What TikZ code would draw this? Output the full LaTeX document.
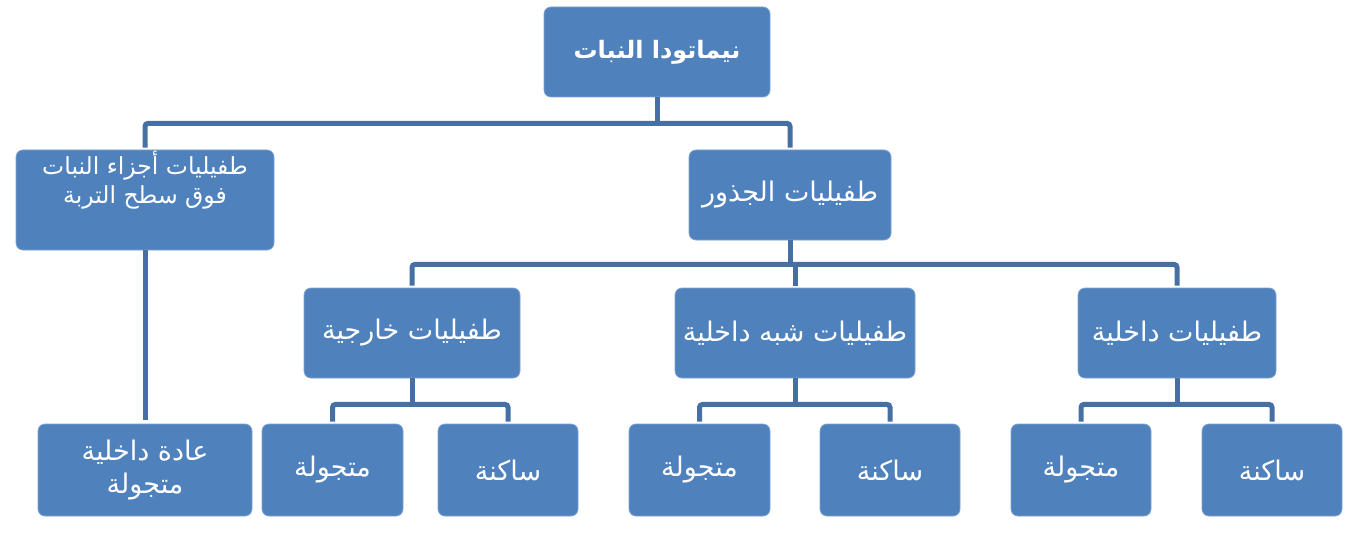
\documentclass[tikz,border=0pt]{standalone}
\usepackage{fontspec}
\newfontfamily\arabicfont[Script=Arabic]{DejaVu Sans}
\TeXXeTstate=1
\definecolor{boxblue}{HTML}{4F81BD}
\definecolor{boxedge}{HTML}{7FA3D0}
\definecolor{linkblue}{HTML}{4670A4}
\newcommand{\artxt}[1]{\beginR #1\endR}
\begin{document}
\begin{tikzpicture}[x=1pt,y=-1pt,
  box/.style={fill=boxblue, draw=boxedge, line width=0.8pt, rounded corners=7pt,
    text=white, font=\arabicfont\fontsize{27}{33}\selectfont, align=center, inner sep=0pt},
  lbl/.style={text=white, font=\arabicfont\fontsize{23.5}{29}\selectfont, align=center, inner sep=0pt},
  conn/.style={draw=linkblue, line width=5pt, rounded corners=3pt}]
\fill[white] (0,0) rectangle (1365,548);
\useasboundingbox (0,0) rectangle (1365,548);
% level 0
\node[box, minimum width=226pt, minimum height=90pt, font=\arabicfont\bfseries\fontsize{24}{29}\selectfont] (root) at (657,52) {\artxt{نيماتودا النبات}};
% level 1
\node[box, minimum width=258pt, minimum height=100pt] (left) at (145,200) {};
\node[lbl] (lefttxt) at (145,180) {\artxt{طفيليات أجزاء النبات}\\\artxt{فوق سطح التربة}};
\node[box, minimum width=202pt, minimum height=90pt] (roots) at (790,195) {\artxt{طفيليات الجذور}};
% level 2
\node[box, minimum width=216pt, minimum height=90pt] (ext) at (412,333) {\artxt{طفيليات خارجية}};
\node[box, minimum width=240pt, minimum height=90pt] (semi) at (795,333) {\artxt{طفيليات شبه داخلية}};
\node[box, minimum width=198pt, minimum height=90pt] (int) at (1177,333) {\artxt{طفيليات داخلية}};
% level 3
\node[box, minimum width=214pt, minimum height=92pt] (b1) at (145,470) {\artxt{عادة داخلية}\\\artxt{متجولة}};
\node[box, minimum width=141pt, minimum height=92pt] (b2) at (332.5,470) {\artxt{متجولة}};
\node[box, minimum width=140pt, minimum height=92pt] (b3) at (508,470) {\artxt{ساكنة}};
\node[box, minimum width=141pt, minimum height=92pt] (b4) at (699.5,470) {\artxt{متجولة}};
\node[box, minimum width=140pt, minimum height=92pt] (b5) at (890,470) {\artxt{ساكنة}};
\node[box, minimum width=140pt, minimum height=92pt] (b6) at (1081,470) {\artxt{متجولة}};
\node[box, minimum width=140pt, minimum height=92pt] (b7) at (1272,470) {\artxt{ساكنة}};
% connectors
\path (root.south) ++(0,26) coordinate (j0);
\draw[conn] (root.south) -- (j0);
\draw[conn] ([yshift=2pt]left.north) |- (j0) -| ([yshift=2pt]roots.north);
\draw[conn] (left.south) -- ([yshift=4pt]b1.north);
\path (roots.south) ++(0,24) coordinate (j1);
\draw[conn] (roots.south) -- (j1);
\draw[conn] ([yshift=2pt]ext.north) |- (j1) -| ([yshift=2pt]int.north);
\draw[conn] ([yshift=2pt]semi.north) -- (semi.north |- j1);
\path (ext.south) ++(0,26) coordinate (j2);
\draw[conn] (ext.south) -- (j2);
\draw[conn] ([yshift=2pt]b2.north) |- (j2) -| ([yshift=2pt]b3.north);
\path (semi.south) ++(0,26) coordinate (j3);
\draw[conn] (semi.south) -- (j3);
\draw[conn] ([yshift=2pt]b4.north) |- (j3) -| ([yshift=2pt]b5.north);
\path (int.south) ++(0,26) coordinate (j4);
\draw[conn] (int.south) -- (j4);
\draw[conn] ([yshift=2pt]b6.north) |- (j4) -| ([yshift=2pt]b7.north);
\end{tikzpicture}
\end{document}
